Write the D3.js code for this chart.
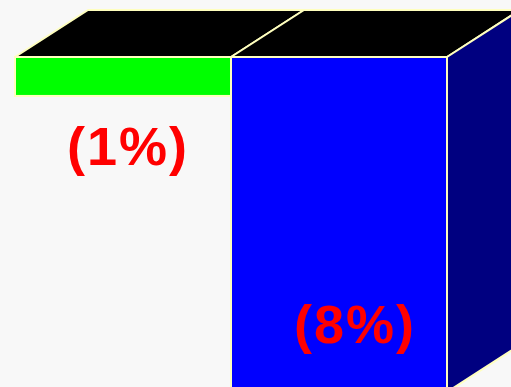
<!DOCTYPE html>
<html>
<head>
<meta charset="utf-8">
<script src="https://cdn.jsdelivr.net/npm/d3@7"></script>
<style>
html,body{margin:0;padding:0;background:#f8f8f8;overflow:hidden;}
svg{display:block;}
</style>
</head>
<body>
<script>
// Data
const categories = ["A", "B"];
const values = [-0.93, -8.0];
const labels = ["(1%)", "(8%)"];
const frontColors = ["#00ff00", "#0000ff"];
const sideColors = ["#008000", "#000080"];

const W = 511, H = 387;
const depthX = 73, depthY = -47;
const edge = "#ffffbe";

const svg = d3.select("body").append("svg").attr("width", W).attr("height", H);
svg.append("rect").attr("width", W).attr("height", H).attr("fill", "#f8f8f8");

const x = d3.scaleBand().domain(categories).range([15, 447]).paddingInner(0).paddingOuter(0);
const y = d3.scaleLinear().domain([0, -8]).range([57, 392]);

const data = categories.map((c, i) => ({c, v: values[i], label: labels[i], front: frontColors[i], side: sideColors[i], i}));

const poly = pts => "M" + pts.map(p => p.join(",")).join("L") + "Z";

// Top faces
svg.selectAll("path.top").data(data).join("path")
  .attr("class", "top")
  .attr("d", d => {
    const x0 = x(d.c), x1 = x0 + x.bandwidth(), yt = y(0);
    return poly([[x0, yt], [x1, yt], [x1 + depthX, yt + depthY], [x0 + depthX, yt + depthY]]);
  })
  .attr("fill", "#000")
  .attr("stroke", edge).attr("stroke-width", 2).attr("stroke-linejoin", "round");

// Side face of last bar
const last = data[data.length - 1];
svg.append("path")
  .attr("d", () => {
    const x1 = x(last.c) + x.bandwidth(), yt = y(0), yb = y(last.v);
    return poly([[x1, yt], [x1 + depthX, yt + depthY], [x1 + depthX, yb + depthY], [x1, yb]]);
  })
  .attr("fill", last.side)
  .attr("stroke", edge).attr("stroke-width", 2);

// Front faces
svg.selectAll("rect.front").data(data).join("rect")
  .attr("class", "front")
  .attr("x", d => x(d.c))
  .attr("y", y(0))
  .attr("width", x.bandwidth())
  .attr("height", d => y(d.v) - y(0))
  .attr("fill", d => d.front)
  .attr("stroke", edge).attr("stroke-width", 2);

// Labels
const labelOffsets = [{dx: 5, y: d => y(d.v) + 69}, {dx: 16, y: d => y(d.v) - 49}];
svg.selectAll("text.lbl").data(data).join("text")
  .attr("class", "lbl")
  .attr("x", d => x(d.c) + x.bandwidth() / 2 + labelOffsets[d.i].dx)
  .attr("y", d => labelOffsets[d.i].y(d))
  .attr("text-anchor", "middle")
  .attr("font-family", "'Liberation Sans', Arial, sans-serif")
  .attr("font-weight", "bold")
  .attr("font-size", 54)
  .attr("letter-spacing", 2)
  .attr("fill", "#ff0000")
  .text(d => d.label);
</script>
</body>
</html>
